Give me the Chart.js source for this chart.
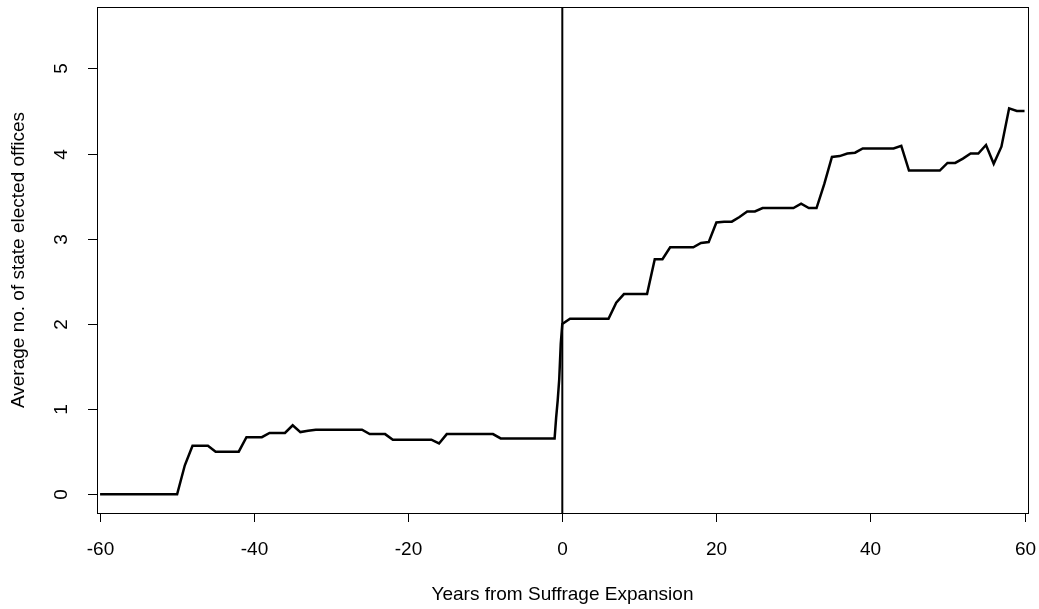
<!DOCTYPE html>
<html lang="en">

<head>
    <meta charset="UTF-8">
    <title>Suffrage Expansion</title>
    <script src="https://cdn.jsdelivr.net/npm/chart.js"></script>
    <style>
        html, body {
            margin: 0;
            padding: 0;
            background: #fff;
        }

        #wrap {
            width: 1039px;
            height: 609px;
        }
    </style>
</head>

<body>
    <div id="wrap">
        <canvas id="officesChart" width="1039" height="609"></canvas>
    </div>

    <script>
        // Years relative to the suffrage expansion, with a few sub-year steps around the jump
        const years = [
            -60, -59, -58, -57, -56, -55, -54, -53, -52, -51, -50,
            -49, -48, -47, -46, -45, -44, -43, -42, -41, -40,
            -39, -38, -37, -36, -35, -34, -33, -32, -31, -30,
            -29, -28, -27, -26, -25, -24, -23, -22, -21, -20,
            -19, -18, -17, -16, -15, -14, -13, -12, -11, -10,
            -9, -8, -7, -6, -5, -4, -3, -2, -1, -0.8, -0.6, -0.4, -0.2, 0,
            1, 2, 3, 4, 5, 6, 7, 8, 9, 10,
            11, 12, 13, 14, 15, 16, 17, 18, 19, 20,
            21, 22, 23, 24, 25, 26, 27, 28, 29, 30,
            31, 32, 33, 34, 35, 36, 37, 38, 39, 40,
            41, 42, 43, 44, 45, 46, 47, 48, 49, 50,
            51, 52, 53, 54, 55, 56, 57, 58, 59, 60
        ];

        // Average number of state elected offices
        const avgOffices = [
            0, 0, 0, 0, 0, 0, 0, 0, 0, 0, 0,
            0.34, 0.57, 0.57, 0.57, 0.50, 0.50, 0.50, 0.50, 0.67, 0.67,
            0.67, 0.72, 0.72, 0.72, 0.81, 0.73, 0.745, 0.757, 0.757, 0.757,
            0.757, 0.757, 0.757, 0.757, 0.706, 0.706, 0.706, 0.64, 0.64, 0.64,
            0.64, 0.64, 0.64, 0.596, 0.706, 0.706, 0.706, 0.706, 0.706, 0.706,
            0.706, 0.655, 0.655, 0.655, 0.655, 0.655, 0.655, 0.655, 0.655, 0.90, 1.10, 1.35, 1.77, 2.00,
            2.06, 2.06, 2.06, 2.06, 2.06, 2.06, 2.25, 2.35, 2.35, 2.35,
            2.35, 2.76, 2.76, 2.90, 2.90, 2.90, 2.90, 2.95, 2.96, 3.19,
            3.20, 3.20, 3.255, 3.32, 3.32, 3.36, 3.36, 3.36, 3.36, 3.36,
            3.41, 3.36, 3.36, 3.64, 3.96, 3.97, 4.00, 4.01, 4.06, 4.06,
            4.06, 4.06, 4.06, 4.09, 3.80, 3.80, 3.80, 3.80, 3.80, 3.89,
            3.89, 3.94, 4.00, 4.00, 4.10, 3.88, 4.08, 4.53, 4.50, 4.50
        ];

        const xTicks = [-60, -40, -20, 0, 20, 40, 60];
        const yTicks = [0, 1, 2, 3, 4, 5];
        const expansionYear = 0;

        const xTitle = 'Years from Suffrage Expansion';
        const yTitle = 'Average no. of state elected offices';

        const FONT = '19px "Liberation Sans", Arial, sans-serif';

        // base-graphics style frame, ticks, labels and the reference line
        const rFrame = {
            id: 'rFrame',
            afterDatasetsDraw(chart) {
                const { ctx, chartArea: a, scales: { x, y } } = chart;
                ctx.save();

                // reference line at the expansion year
                const vx = x.getPixelForValue(expansionYear);
                ctx.strokeStyle = '#000';
                ctx.lineWidth = 2;
                ctx.beginPath();
                ctx.moveTo(vx, a.top);
                ctx.lineTo(vx, a.bottom);
                ctx.stroke();

                // box
                ctx.lineWidth = 1;
                ctx.strokeRect(Math.round(a.left) + 0.5, Math.round(a.top) + 0.5,
                    Math.round(a.right - a.left), Math.round(a.bottom - a.top));

                ctx.fillStyle = '#000';
                ctx.font = FONT;

                // x axis ticks and labels
                ctx.textAlign = 'center';
                ctx.textBaseline = 'middle';
                xTicks.forEach(v => {
                    const px = Math.round(x.getPixelForValue(v)) + 0.5;
                    ctx.beginPath();
                    ctx.moveTo(px, a.bottom);
                    ctx.lineTo(px, a.bottom + 9);
                    ctx.stroke();
                    ctx.fillText(String(v), px, a.bottom + 37);
                });

                // y axis ticks and labels, rotated like the base plot
                yTicks.forEach(v => {
                    const py = Math.round(y.getPixelForValue(v)) + 0.5;
                    ctx.beginPath();
                    ctx.moveTo(a.left, py);
                    ctx.lineTo(a.left - 9, py);
                    ctx.stroke();
                    ctx.save();
                    ctx.translate(a.left - 35, py);
                    ctx.rotate(-Math.PI / 2);
                    ctx.fillText(String(v), 0, 0);
                    ctx.restore();
                });

                // axis titles
                ctx.fillText(xTitle, (a.left + a.right) / 2, a.bottom + 82);
                ctx.save();
                ctx.translate(19, (a.top + a.bottom) / 2);
                ctx.rotate(-Math.PI / 2);
                ctx.fillText(yTitle, 0, 0);
                ctx.restore();

                ctx.restore();
            }
        };

        const points = years.map((yr, i) => ({ x: yr, y: avgOffices[i] }));

        new Chart(document.getElementById('officesChart'), {
            type: 'line',
            data: {
                datasets: [{
                    data: points,
                    borderColor: '#000',
                    borderWidth: 2.5,
                    pointRadius: 0,
                    tension: 0,
                    fill: false
                }]
            },
            options: {
                responsive: false,
                animation: false,
                events: [],
                layout: {
                    padding: { left: 97, right: 11, top: 7, bottom: 96 }
                },
                plugins: {
                    legend: { display: false },
                    tooltip: { enabled: false }
                },
                scales: {
                    x: {
                        type: 'linear',
                        display: false,
                        min: -60.4,
                        max: 60.45
                    },
                    y: {
                        type: 'linear',
                        display: false,
                        min: -0.22,
                        max: 5.72
                    }
                }
            },
            plugins: [rFrame]
        });
    </script>
</body>

</html>
